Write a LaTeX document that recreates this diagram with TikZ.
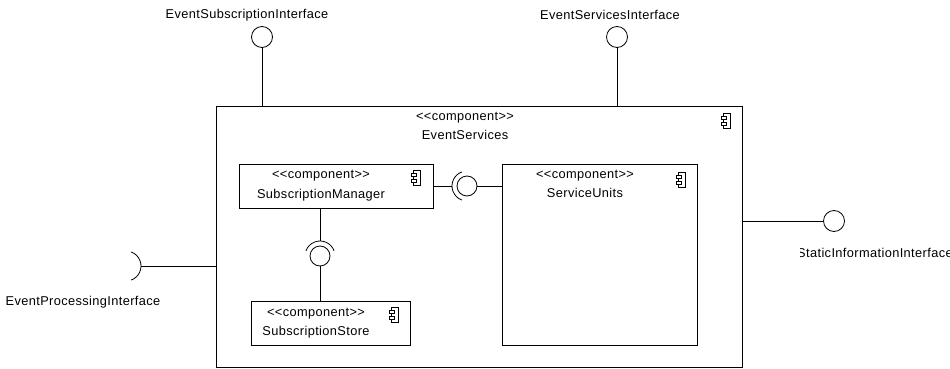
\documentclass[tikz,border=0pt]{standalone}
\usepackage{fontspec}
\setmainfont{Liberation Sans}[LetterSpace=3]
\begin{document}
\begin{tikzpicture}[x=1pt,y=-1pt,
  every node/.style={font=\fontsize{12.8}{14}\selectfont, inner sep=0pt},
  box/.style={draw, line width=0.8pt, rectangle},
  ball/.style={draw, line width=0.8pt, circle, minimum size=21pt},
  wire/.style={line width=0.8pt},
  txt/.style={anchor=center}
]
\useasboundingbox (0,0) rectangle (950,369);

% component icon macro
\newcommand{\compicon}[2]{%
  \draw[line width=0.7pt] (#1+2,#2) rectangle (#1+9,#2+15);
  \draw[line width=0.7pt, fill=white] (#1,#2+3) rectangle (#1+5,#2+6);
  \draw[line width=0.7pt, fill=white] (#1,#2+9) rectangle (#1+5,#2+12);
}
\newcommand{\stereo}{<{}<component>{}>}

% main component
\node[box, minimum width=526pt, minimum height=261pt] (main) at (479,236.5) {};
\node[txt] (mainst) at (465,118) {\stereo};
\node[txt] (mainnm) at (465,135) {EventServices};
\compicon{721}{113}

% SubscriptionManager
\node[box, minimum width=194pt, minimum height=44pt] (sm) at (336,186) {};
\node[txt] (smst) at (321,176) {\stereo};
\node[txt] (smnm) at (321,195) {SubscriptionManager};
\compicon{411}{170}

% SubscriptionStore
\node[box, minimum width=159pt, minimum height=44pt] (ss) at (330.5,323) {};
\node[txt] (ssst) at (316,314) {\stereo};
\node[txt] (ssnm) at (316,332) {SubscriptionStore};
\compicon{389}{307}

% ServiceUnits
\node[box, minimum width=195pt, minimum height=181pt] (su) at (599.5,254.5) {};
\node[txt] (sust) at (585,176) {\stereo};
\node[txt] (sunm) at (585,193) {ServiceUnits};
\compicon{676}{172}

% top provided interfaces
\node[ball] (esi) at (262,37) {};
\node[txt] (esil) at (247,15) {EventSubscriptionInterface};
\draw[wire] (esi.south) -- (esi.south |- main.north);

\node[ball] (evi) at (617,37) {};
\node[txt] (evil) at (610,15) {EventServicesInterface};
\draw[wire] (evi.south) -- (evi.south |- main.north);

% static information interface
\node[ball] (sii) at (834,221) {};
\draw[wire] (sii.west) -- (sii.west -| main.east);
\begin{scope}
  \clip (800,240) rectangle (950,266);
  \node[anchor=west] (siil) at (797,253) {StaticInformationInterface};
\end{scope}

% event processing required interface
\coordinate (epc) at (126,266);
\draw[wire] ([shift={(-70:15pt)}]epc) arc (-70:70:15pt);
\coordinate (epe) at (141,266);
\draw[wire] (epe) -- (epe -| main.west);
\node[txt] (epl) at (83,302) {EventProcessingInterface};

% SM - SU assembly
\node[ball, minimum size=20pt] (b1) at (467,186) {};
\draw[wire] ([shift={(110:15pt)}]b1.center) arc (110:250:15pt);
\coordinate (s1) at (452,186);
\draw[wire] (sm.east |- s1) -- (s1);
\draw[wire] (b1.east) -- (b1.east -| su.west);

% SM - Store assembly
\node[ball, minimum size=20pt] (b2) at (320,256) {};
\draw[wire] ([shift={(20:15pt)}]b2.center) arc (20:160:15pt);
\coordinate (s2) at (320,241);
\draw[wire] (s2 |- sm.south) -- (s2);
\draw[wire] (b2.south) -- (b2.south |- ss.north);
\end{tikzpicture}
\end{document}
